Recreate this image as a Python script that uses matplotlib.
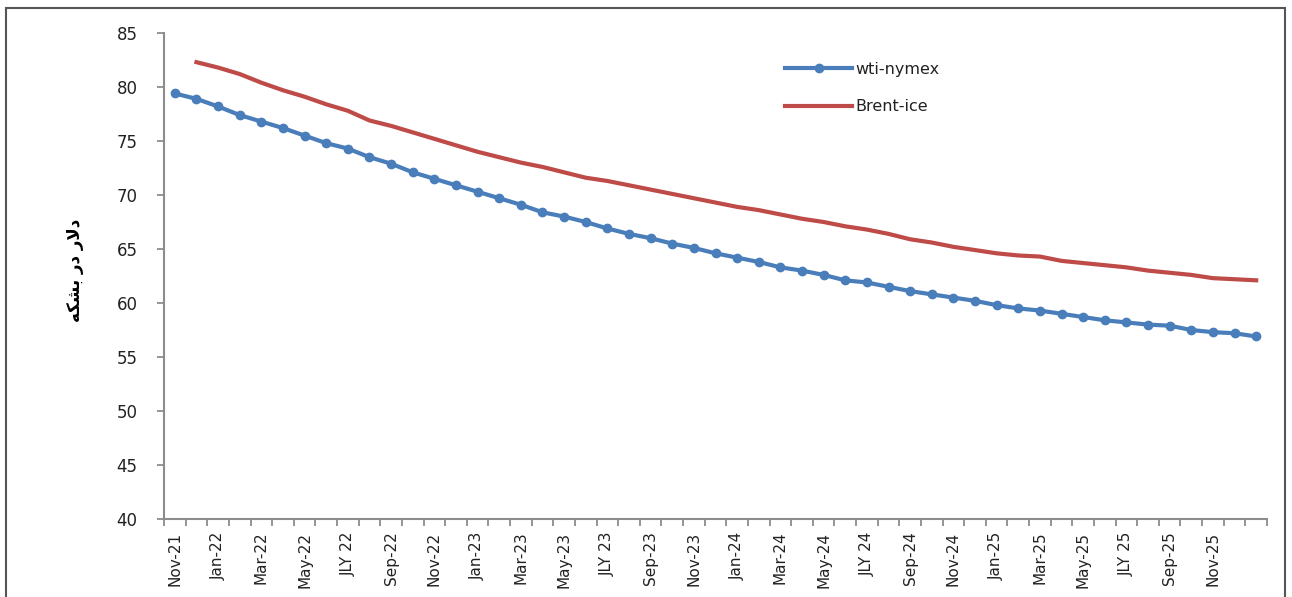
#!/usr/bin/env python

import matplotlib
matplotlib.use('Agg')
import matplotlib.pyplot as plt
from matplotlib.patches import Rectangle
import numpy as np

# monthly futures curve, Nov-21 .. Jan-26 (51 categories)
n_months = 51
tick_labels = ['Nov-21', 'Jan-22', 'Mar-22', 'May-22', 'JLY 22', 'Sep-22', 'Nov-22',
               'Jan-23', 'Mar-23', 'May-23', 'JLY 23', 'Sep-23', 'Nov-23',
               'Jan-24', 'Mar-24', 'May-24', 'JLY 24', 'Sep-24', 'Nov-24',
               'Jan-25', 'Mar-25', 'May-25', 'JLY 25', 'Sep-25', 'Nov-25']

wti = [79.4, 78.9, 78.2, 77.4, 76.8, 76.2, 75.5, 74.8, 74.3, 73.5,
       72.9, 72.1, 71.5, 70.9, 70.3, 69.7, 69.1, 68.4, 68.0, 67.5,
       66.9, 66.4, 66.0, 65.5, 65.1, 64.6, 64.2, 63.8, 63.3, 63.0,
       62.6, 62.1, 61.9, 61.5, 61.1, 60.8, 60.5, 60.2, 59.8, 59.5,
       59.3, 59.0, 58.7, 58.4, 58.2, 58.0, 57.9, 57.5, 57.3, 57.2, 56.9]

# brent starts one month later (Dec-21)
brent = [82.3, 81.8, 81.2, 80.4, 79.7, 79.1, 78.4, 77.8, 76.9, 76.4,
         75.8, 75.2, 74.6, 74.0, 73.5, 73.0, 72.6, 72.1, 71.6, 71.3,
         70.9, 70.5, 70.1, 69.7, 69.3, 68.9, 68.6, 68.2, 67.8, 67.5,
         67.1, 66.8, 66.4, 65.9, 65.6, 65.2, 64.9, 64.6, 64.4, 64.3,
         63.9, 63.7, 63.5, 63.3, 63.0, 62.8, 62.6, 62.3, 62.2, 62.1]

# "دلار در بشکه" in presentation forms, visual order (no shaping in matplotlib)
ylabel = '\ufeea\ufb91\ufeb8\ufe91 \ufead\ufea9 \ufead\ufefb\ufea9'

BLUE = '#4a7ebb'
RED = '#be4b48'
GREY = '#8c8c8c'


def main():
    fig = plt.figure(figsize=(12.92, 5.97), dpi=100)
    ax = fig.add_axes([164 / 1292, 1 - 519 / 597, (1267 - 164) / 1292, (519 - 33) / 597])

    x = np.arange(n_months)
    ax.plot(x[:len(wti)], wti, color=BLUE, lw=3, marker='o', ms=6,
            label='wti-nymex', zorder=3)
    ax.plot(x[1:1 + len(brent)], brent, color=RED, lw=3, label='Brent-ice', zorder=2)

    ax.set_xlim(-0.5, n_months - 0.5)
    ax.set_ylim(40, 85)
    ax.set_yticks(np.arange(40, 86, 5))

    ax.set_xticks(np.arange(0, 2 * len(tick_labels), 2))
    ax.set_xticklabels(tick_labels, rotation=90, fontsize=11,
                       family=['Liberation Sans Narrow', 'DejaVu Sans'])
    ax.set_xticks(np.arange(-0.5, n_months, 1), minor=True)
    ax.tick_params(axis='x', which='major', length=0, pad=9, colors='#222222')
    ax.tick_params(axis='x', which='minor', length=5, width=1.3, color=GREY)
    ax.tick_params(axis='y', length=5, width=1.3, color=GREY, labelsize=12,
                   labelcolor='#222222', pad=14)

    for side in ['top', 'right']:
        ax.spines[side].set_visible(False)
    for side in ['left', 'bottom']:
        ax.spines[side].set_color(GREY)
        ax.spines[side].set_linewidth(1.5)

    fig.text(75 / 1292, 1 - 270 / 597, ylabel, rotation=90, ha='center', va='center',
             fontsize=12, fontweight='bold', family=['DejaVu Sans'])

    leg = ax.legend(loc='upper left', bbox_to_anchor=(0.55, 0.97), frameon=False,
                    fontsize=11.5, handlelength=4.2, labelspacing=1.4, handletextpad=0.2)
    for t in leg.get_texts():
        t.set_color('#222222')

    fig.patches.append(Rectangle((6 / 1292, -0.02), 1279 / 1292, 1 - 8 / 597 + 0.02,
                                 transform=fig.transFigure, fill=False,
                                 edgecolor='#555555', lw=1.5))

    plt.savefig('out.png', dpi=100)


if __name__ == '__main__':
    main()
